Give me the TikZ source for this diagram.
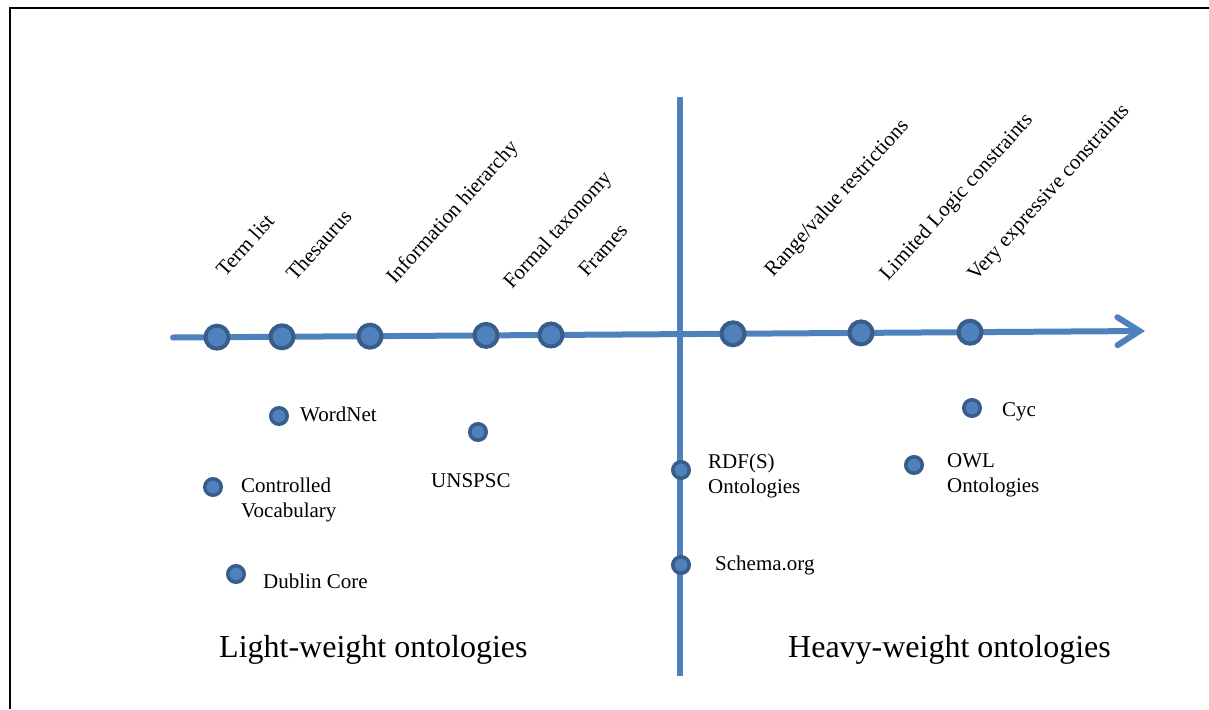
\documentclass[tikz,border=0pt]{standalone}
\usepackage{fontspec}
\setmainfont{Liberation Serif}
\usetikzlibrary{arrows.meta}
\definecolor{axisblue}{RGB}{79,129,189}
\definecolor{dotedge}{RGB}{56,93,138}
\begin{document}
\begin{tikzpicture}[x=1pt,y=-1pt,
  axisline/.style={draw=axisblue,line width=6pt},
  bigdot/.style={circle,draw=dotedge,fill=axisblue,line width=4pt,minimum size=23pt,inner sep=0pt},
  smalldot/.style={circle,draw=dotedge,fill=axisblue,line width=3.5pt,minimum size=16.5pt,inner sep=0pt},
  lbl/.style={anchor=base west,inner sep=0pt,font=\fontsize{21}{24.5}\selectfont,align=left},
  ticklbl/.style={lbl,rotate=48},
  biglbl/.style={anchor=base west,inner sep=0pt,font=\fontsize{32}{36}\selectfont}]
\useasboundingbox (0,0) rectangle (1209,709);
% frame (left and top edges)
\draw[line width=2pt] (10,709) -- (10,8) -- (1209,8);

% axes
\coordinate (axL) at (173,337.5);
\coordinate (axR) at (1145,331);
\coordinate (vT) at (680,97);
\coordinate (vB) at (680,676);
\draw[axisline] (vT) -- (vB);
\draw[axisline,line cap=round,-{Straight Barb[length=22pt,width=28pt,line cap=round]}] (axL) -- (axR);

% points on the horizontal axis
\node[bigdot] (d1) at (217,337.2) {};
\node[bigdot] (d2) at (282,336.8) {};
\node[bigdot] (d3) at (370,336.2) {};
\node[bigdot] (d4) at (486,335.4) {};
\node[bigdot] (d5) at (551,335.0) {};
\node[bigdot] (d6) at (733,333.8) {};
\node[bigdot] (d7) at (861,332.9) {};
\node[bigdot] (d8) at (970,332.2) {};

% slanted axis labels
\node[ticklbl] (l1) at (225,278) {Term list};
\node[ticklbl] (l2) at (295,282) {Thesaurus};
\node[ticklbl] (l3) at (395,285) {Information hierarchy};
\node[ticklbl] (l4) at (512,290) {Formal taxonomy};
\node[ticklbl] (l5) at (587,278) {Frames};
\node[ticklbl] (l6) at (773,278) {Range/value restrictions};
\node[ticklbl] (l7) at (888,282) {Limited Logic constraints};
\node[ticklbl] (l8) at (976,282) {Very expressive constraints};

% examples
\node[smalldot] (wn) at (279,416) {};
\node[smalldot] (un) at (478,432) {};
\node[smalldot] (cv) at (213,487) {};
\node[smalldot] (dc) at (236,574) {};
\node[smalldot] (cy) at (972,408) {};
\node[smalldot] (rd) at (681,470) {};
\node[smalldot] (ow) at (914,465) {};
\node[smalldot] (sc) at (681,565) {};

% multi-line labels are anchored at the baseline of their last line
\node[lbl] (wnt) at (300,421) {WordNet};
\node[lbl] (unt) at (431,487) {UNSPSC};
\node[lbl] (cvt) at (241,517) {Controlled\\Vocabulary};
\node[lbl] (dct) at (263,588) {Dublin Core};
\node[lbl] (cyt) at (1002,416) {Cyc};
\node[lbl] (rdt) at (708,493) {RDF(S)\\Ontologies};
\node[lbl] (owt) at (947,492) {OWL\\Ontologies};
\node[lbl] (sct) at (715,570) {Schema.org};

% region titles
\node[biglbl] (lw) at (219,657) {Light-weight ontologies};
\node[biglbl] (hw) at (788,657) {Heavy-weight ontologies};
\end{tikzpicture}
\end{document}
